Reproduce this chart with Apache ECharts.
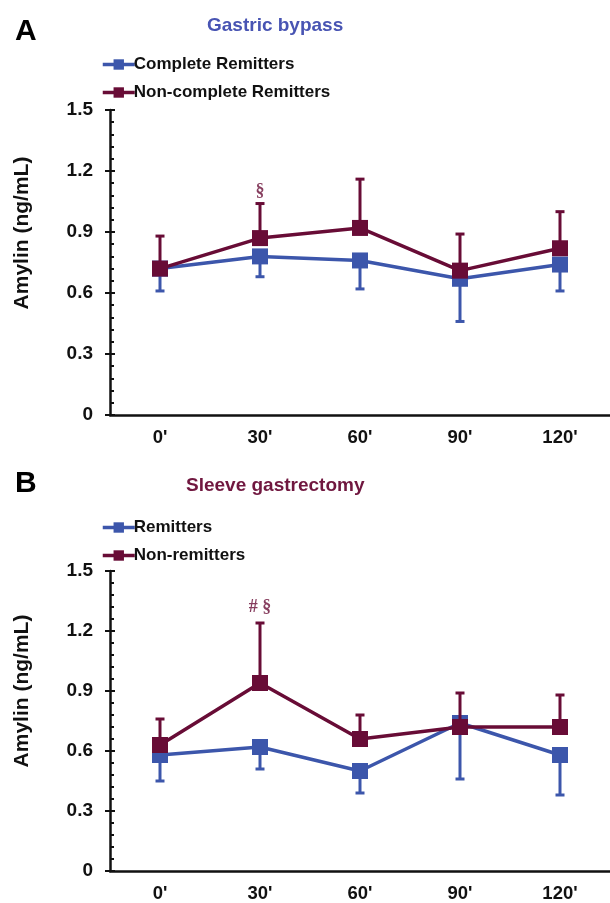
<!DOCTYPE html>
<html>
<head>
<meta charset="utf-8">
<script src="https://cdn.jsdelivr.net/npm/echarts@6/dist/echarts.min.js"></script>
<style>
  html, body { margin: 0; padding: 0; background: #fff; }
  #chart { width: 610px; height: 903px; }
</style>
</head>
<body>
<div id="chart"></div>
<script>
const times = ["0'", "30'", "60'", "90'", "120'"]
const yTicks = [0, 0.3, 0.6, 0.9, 1.2, 1.5]
const yName = 'Amylin (ng/mL)'

// panel A - gastric bypass
const namesA = ['Complete Remitters', 'Non-complete Remitters']
const blueA = [0.72, 0.78, 0.76, 0.67, 0.74]
const blueLowA = [0.61, 0.68, 0.62, 0.46, 0.61]
const redA = [0.72, 0.87, 0.92, 0.71, 0.82]
const redHighA = [0.88, 1.04, 1.16, 0.89, 1.00]
const notesA = [["30'", 1.10, '§']]

// panel B - sleeve gastrectomy
const namesB = ['Remitters', 'Non-remitters']
const blueB = [0.58, 0.62, 0.50, 0.74, 0.58]
const blueLowB = [0.45, 0.51, 0.39, 0.46, 0.38]
const redB = [0.63, 0.94, 0.66, 0.72, 0.72]
const redHighB = [0.76, 1.24, 0.78, 0.89, 0.88]
const notesB = [["30'", 1.32, '# §']]

const BLUE = '#3c56ab'
const RED = '#680c36'
const FONT = 'Liberation Sans, Arial, sans-serif'

const chart = echarts.init(document.getElementById('chart'))

function errSeries(idx, means, ends, color) {
    return {
        type: 'custom',
        xAxisIndex: idx,
        yAxisIndex: idx * 2,
        silent: true,
        z: color === RED ? 3 : 1,
        data: means.map((m, i) => [i, m, ends[i]]),
        renderItem(params, api) {
            const p0 = api.coord([api.value(0), api.value(1)])
            const p1 = api.coord([api.value(0), api.value(2)])
            const st = { stroke: color, lineWidth: 3 }
            return {
                type: 'group',
                children: [
                    { type: 'line', shape: { x1: p0[0], y1: p0[1], x2: p1[0], y2: p1[1] }, style: st },
                    { type: 'line', shape: { x1: p1[0] - 4.5, y1: p1[1], x2: p1[0] + 4.5, y2: p1[1] }, style: st }
                ]
            }
        }
    }
}

function lineSeries(idx, name, vals, color, z) {
    return {
        type: 'line',
        name: name,
        xAxisIndex: idx,
        yAxisIndex: idx * 2,
        data: vals,
        symbol: 'rect',
        symbolSize: 16,
        z: z,
        lineStyle: { color: color, width: 3.5 },
        itemStyle: { color: color },
        emphasis: { disabled: true }
    }
}

function noteSeries(idx, notes) {
    return {
        type: 'scatter',
        xAxisIndex: idx,
        yAxisIndex: idx * 2,
        symbolSize: 0,
        silent: true,
        data: notes.map(n => ({ value: [n[0], n[1]], name: n[2] })),
        label: {
            show: true,
            position: 'inside',
            formatter: p => p.name,
            color: RED,
            fontFamily: 'Liberation Serif, Times New Roman, serif',
            fontSize: 18,
            fontWeight: 'bold'
        }
    }
}

function xAxisFor(idx) {
    return {
        type: 'category',
        gridIndex: idx,
        data: times,
        axisLine: { lineStyle: { color: '#111', width: 2.5 } },
        axisTick: { show: false },
        axisLabel: { color: '#111', fontFamily: FONT, fontSize: 18.5, fontWeight: 'bold', margin: 13 },
        splitLine: { show: false }
    }
}

function yAxesFor(idx) {
    return [{
        type: 'value',
        gridIndex: idx,
        min: 0,
        max: 1.5,
        interval: 0.3,
        axisLine: { show: true, lineStyle: { color: '#111', width: 2.5 } },
        axisTick: { show: true, inside: true, length: 5, lineStyle: { color: '#111', width: 2 } },
        minorTick: { show: true, splitNumber: 5, length: 4, lineStyle: { color: '#111', width: 2 } },
        axisLabel: {
            color: '#111', fontFamily: FONT, fontSize: 19, fontWeight: 'bold', margin: 17,
            formatter: v => {
                const t = yTicks.find(x => Math.abs(x - v) < 1e-6)
                return t === 0 ? '0' : t.toFixed(1)
            }
        },
        splitLine: { show: false }
    }, {
        type: 'value',
        gridIndex: idx,
        position: 'left',
        min: 0,
        max: 1.5,
        interval: 0.3,
        axisLine: { show: false },
        axisTick: { show: true, length: 5, lineStyle: { color: '#111', width: 2 } },
        axisLabel: { show: false },
        splitLine: { show: false }
    }]
}

function legendFor(names, top) {
    return {
        data: names,
        orient: 'vertical',
        left: 96,
        top: top,
        itemWidth: 32,
        itemHeight: 13,
        itemGap: 11,
        lineStyle: { width: 3.5 },
        textStyle: { color: '#111', fontFamily: FONT, fontSize: 17, fontWeight: 'bold', padding: [0, 0, 0, -6] },
        selectedMode: false
    }
}

function yNameText(cy) {
    return {
        type: 'text',
        x: 22,
        y: cy,
        rotation: Math.PI / 2,
        style: {
            text: yName,
            fill: '#111',
            font: 'bold 21px ' + FONT,
            align: 'center',
            verticalAlign: 'middle'
        }
    }
}

const option = {
    animation: false,
    backgroundColor: '#fff',
    title: [
        { text: 'A', left: 10, top: 12, textStyle: { fontFamily: FONT, fontSize: 30, fontWeight: 'bold', color: '#000' } },
        { text: 'Gastric bypass', left: 202, top: 11, textStyle: { fontFamily: FONT, fontSize: 19, fontWeight: 'bold', color: '#4854b3' } },
        { text: 'B', left: 10, top: 464, textStyle: { fontFamily: FONT, fontSize: 30, fontWeight: 'bold', color: '#000' } },
        { text: 'Sleeve gastrectomy', left: 181, top: 471, textStyle: { fontFamily: FONT, fontSize: 19, fontWeight: 'bold', color: '#70173f' } }
    ],
    legend: [legendFor(namesA, 51), legendFor(namesB, 514)],
    grid: [
        { left: 110, right: 0, top: 110, height: 305 },
        { left: 110, right: 0, top: 571, height: 302 }
    ],
    xAxis: [xAxisFor(0), xAxisFor(1)],
    yAxis: yAxesFor(0).concat(yAxesFor(1)),
    graphic: [yNameText(233), yNameText(691)],
    series: [
        errSeries(0, blueA, blueLowA, BLUE),
        errSeries(0, redA, redHighA, RED),
        lineSeries(0, namesA[0], blueA, BLUE, 2),
        lineSeries(0, namesA[1], redA, RED, 4),
        noteSeries(0, notesA),
        errSeries(1, blueB, blueLowB, BLUE),
        errSeries(1, redB, redHighB, RED),
        lineSeries(1, namesB[0], blueB, BLUE, 2),
        lineSeries(1, namesB[1], redB, RED, 4),
        noteSeries(1, notesB)
    ]
}

chart.setOption(option)
</script>
</body>
</html>
